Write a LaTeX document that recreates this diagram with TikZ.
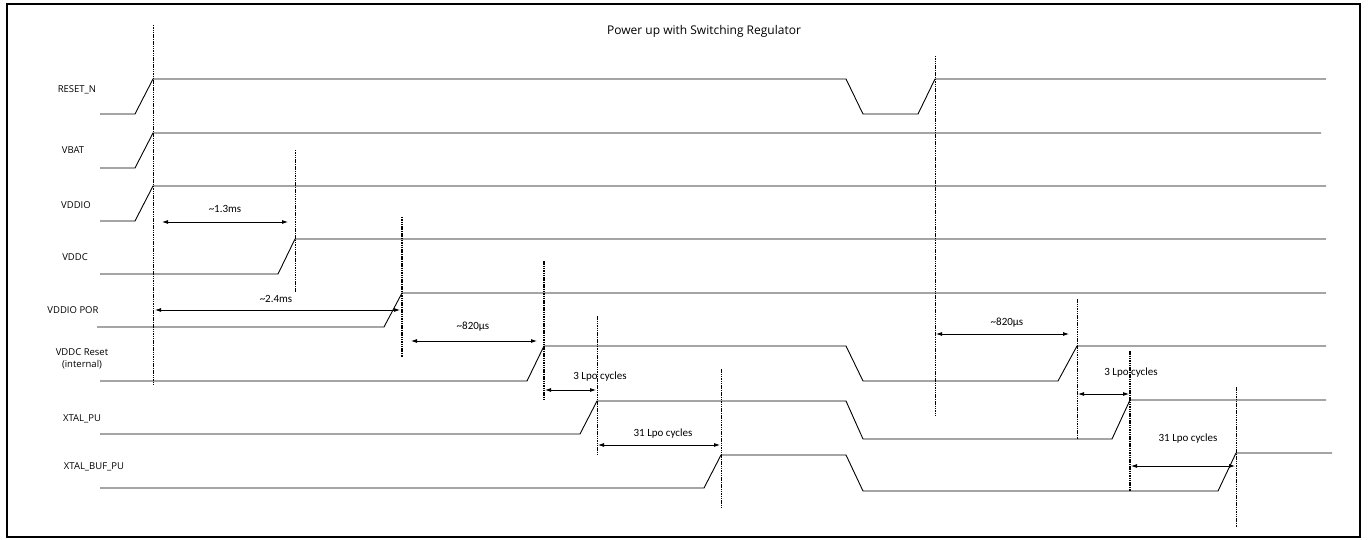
\documentclass[tikz,border=0pt]{standalone}
\usepackage{fontspec}
\setmainfont{Open Sans}
\newfontfamily\annfont{Carlito}
\usetikzlibrary{arrows.meta}
\tikzset{
  sig/.style={line width=0.9pt, line join=miter},
  guide/.style={line width=0.7pt, dash pattern=on 1.5pt off 0.8pt},
  guidebold/.style={line width=1.3pt, dash pattern=on 1.5pt off 0.8pt},
  dim/.style={line width=0.8pt, {Latex[length=6pt,width=4pt]}-{Latex[length=6pt,width=4pt]}},
  siglabel/.style={font=\fontsize{9.5}{11}\selectfont, align=center, inner sep=0pt},
  annlabel/.style={font=\annfont\fontsize{11}{12}\selectfont, inner sep=0pt},
  title/.style={font=\fontsize{12}{14}\selectfont, inner sep=0pt}
}
\begin{document}
\begin{tikzpicture}[x=1pt,y=-1pt]
\useasboundingbox (0,0) rectangle (1368,540);
\draw[line width=1.8pt] (7,4) rectangle (1360,537);

\node[title] (ttl) at (704,31) {Power up with Switching Regulator};

% signal labels
\node[siglabel] (lrst) at (77,90) {RESET\_N};
\node[siglabel] (lvbat) at (73,150) {VBAT};
\node[siglabel] (lvddio) at (76,205) {VDDIO};
\node[siglabel] (lvddc) at (75,257) {VDDC};
\node[siglabel] (lpor) at (73,310) {VDDIO POR};
\node[siglabel] (lvrst) at (82,359) {VDDC Reset\\[1pt](internal)};
\node[siglabel] (lxpu) at (82,419) {XTAL\_PU};
\node[siglabel] (lxbuf) at (94,467) {XTAL\_BUF\_PU};

% waveforms
\draw[sig] (100,114) -- (135,114) -- (153,79) -- (846,79) -- (863,114) -- (918,114) -- (935,79) -- (1326,79);
\draw[sig] (100,168) -- (135,168) -- (153,133) -- (1321,133);
\draw[sig] (100,221) -- (135,221) -- (153,186) -- (1326,186);
\draw[sig] (100,274) -- (278,274) -- (295,239) -- (1326,239);
\draw[sig] (97,327) -- (384,327) -- (402,293) -- (1326,293);
\draw[sig] (100,381) -- (527,381) -- (544,346) -- (846,346) -- (863,381) -- (1058,381) -- (1077,346) -- (1326,346);
\draw[sig] (100,434) -- (580,434) -- (597,401) -- (846,401) -- (863,439) -- (1112,439) -- (1130,400) -- (1326,400);
\draw[sig] (100,488) -- (704,488) -- (721,455) -- (846,455) -- (863,491) -- (1218,491) -- (1236,453) -- (1332,453);

% guide lines
\coordinate (g1t) at (153,25);  \coordinate (g1b) at (153,385);
\coordinate (g2t) at (295,150); \coordinate (g2b) at (295,292);
\coordinate (g3t) at (402,217); \coordinate (g3b) at (402,357);
\coordinate (g4t) at (544,261); \coordinate (g4b) at (544,400);
\coordinate (g5t) at (597,316); \coordinate (g5b) at (597,455);
\coordinate (g6t) at (721,369); \coordinate (g6b) at (721,508);
\coordinate (g7t) at (935,56);  \coordinate (g7b) at (935,415);
\coordinate (g8t) at (1077,299); \coordinate (g8b) at (1077,439);
\coordinate (g9t) at (1130,351); \coordinate (g9b) at (1130,491);
\coordinate (g10t) at (1236,387); \coordinate (g10b) at (1236,527);
\draw[guide] (g1t) -- (g1b);
\draw[guide] (g2t) -- (g2b);
\draw[guidebold] (g3t) -- (g3b);
\draw[guidebold] (g4t) -- (g4b);
\draw[guide] (g5t) -- (g5b);
\draw[guide] (g6t) -- (g6b);
\draw[guide] (g7t) -- (g7b);
\draw[guide] (g8t) -- (g8b);
\draw[guidebold] (g9t) -- (g9b);
\draw[guide] (g10t) -- (g10b);

% dimension arrows
\coordinate (a1l) at (162,222); \coordinate (a1r) at (288,222);
\coordinate (a2l) at (155,310); \coordinate (a2r) at (400,310);
\coordinate (a3l) at (411,341); \coordinate (a3r) at (537,341);
\coordinate (a4l) at (545,390); \coordinate (a4r) at (596,390);
\coordinate (a5l) at (598,445); \coordinate (a5r) at (720,445);
\coordinate (a6l) at (936,334); \coordinate (a6r) at (1069,334);
\coordinate (a7l) at (1078,394); \coordinate (a7r) at (1129,394);
\coordinate (a8l) at (1131,466); \coordinate (a8r) at (1235,466);
\draw[dim] (a1l) -- (a1r);
\draw[dim] (a2l) -- (a2r);
\draw[dim] (a3l) -- (a3r);
\draw[dim] (a4l) -- (a4r);
\draw[dim] (a5l) -- (a5r);
\draw[dim] (a6l) -- (a6r);
\draw[dim] (a7l) -- (a7r);
\draw[dim] (a8l) -- (a8r);

\node[annlabel] (t1) at (225,209) {\textasciitilde1.3ms};
\node[annlabel] (t2) at (276,299) {\textasciitilde2.4ms};
\node[annlabel] (t3) at (473,327) {\textasciitilde820µs};
\node[annlabel] (t4) at (600,377) {3 Lpo cycles};
\node[annlabel] (t5) at (663,434) {31 Lpo cycles};
\node[annlabel] (t6) at (1007,323) {\textasciitilde820µs};
\node[annlabel] (t7) at (1131,373) {3 Lpo cycles};
\node[annlabel] (t8) at (1188,439) {31 Lpo cycles};
\end{tikzpicture}
\end{document}
